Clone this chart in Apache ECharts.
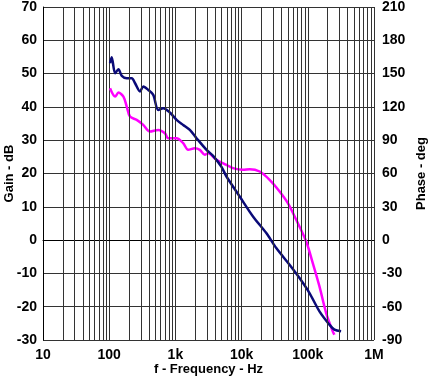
<!DOCTYPE html>
<html><head><meta charset="utf-8">
<script src="https://cdn.jsdelivr.net/npm/echarts@6/dist/echarts.min.js"></script>
<style>html,body{margin:0;padding:0;background:#fff}#c{width:428px;height:379px}</style>
</head><body><div id="c"></div>
<script>
// Gain (left axis, dB)
var gainFreq = [103,109,123,138,155,184,219,246,292,327,389,463,551,655,826,1042,1311,1653,2085,2951,3709,4966,5904,9356,14860,23610,33420,53020,74990,106100,150000,212300,252500,318400];
var gainDb   = [53.1,54.9,50.1,51.3,49.3,48.6,48.6,47.1,44.6,46.1,45.1,43.6,39.1,39.6,38.3,36.1,34.6,33.1,30.6,27.1,25.3,22.0,19.1,13.1,7.1,2.1,-2.4,-7.4,-11.4,-15.9,-21.4,-25.4,-26.9,-27.4];
// Phase (right axis, deg)
var phaseFreq = [103,123,138,164,184,206,260,327,413,551,695,779,1042,1311,1559,1966,2339,2782,3119,4174,5904,7420,10500,13240,18740,26490,37500,49990,66860,94610,118900,150000,189300,237900,252500];
var phaseDeg  = [136.8,129.3,132.9,129.3,120.3,111.3,108.3,103.8,97.8,99.3,96.3,91.8,91.8,87.3,81.3,82.8,81.3,76.8,78.3,72.3,67.8,64.8,63.3,63.9,61.8,54.3,43.8,33.3,18.3,-1.2,-20.7,-41.7,-65.7,-82.2,-85.2];
var xTickLabels = {1:'10',2:'100',3:'1k',4:'10k',5:'100k',6:'1M'};
var decades = [10,100,1000,10000,100000];
var minorMult = [2,3,4,5,6,7,8,9];

var minorLines = [];
decades.forEach(function(d){ minorMult.forEach(function(m){ minorLines.push({xAxis: d*m}); }); });

function zip(a,b){ return a.map(function(v,i){ return [v,b[i]]; }); }

var font = 'Liberation Sans, Arial, sans-serif';
var lblStyle = {color:'#000', fontWeight:'bold', fontSize:14, fontFamily:font};
var gridCol = '#333';

var chart = echarts.init(document.getElementById('c'));
chart.setOption({
  animation:false,
  grid:{left:43, right:54, top:7, bottom:39, containLabel:false, outerBoundsMode:'none'},
  xAxis:{
    type:'log', logBase:10, min:10, max:1000000, splitNumber:5,
    name:'f - Frequency - Hz', nameLocation:'middle', nameGap:23, nameMoveOverlap:false,
    nameTextStyle:{color:'#000', fontWeight:'bold', fontSize:13, fontFamily:font},
    axisLine:{show:true, lineStyle:{color:'#000', width:1}},
    axisTick:{show:false},
    axisLabel:Object.assign({margin:8, formatter:function(v){ return xTickLabels[Math.round(Math.log10(v))] || ''; }}, lblStyle),
    splitLine:{show:true, lineStyle:{color:gridCol, width:1}}
  },
  yAxis:[{
    type:'value', min:-30, max:70, interval:10,
    name:'Gain - dB', nameLocation:'middle', nameGap:27, nameRotate:90, nameMoveOverlap:false,
    nameTextStyle:{color:'#000', fontWeight:'bold', fontSize:13, fontFamily:font},
    axisLine:{show:true, lineStyle:{color:'#000', width:1}},
    axisTick:{show:false},
    axisLabel:Object.assign({margin:6}, lblStyle),
    splitLine:{show:true, lineStyle:{color:gridCol, width:1}}
  },{
    type:'value', min:-90, max:210, interval:30, position:'right',
    name:'Phase - deg', nameLocation:'middle', nameGap:41, nameRotate:90, nameMoveOverlap:false,
    nameTextStyle:{color:'#000', fontWeight:'bold', fontSize:13, fontFamily:font},
    axisLine:{show:false},
    axisTick:{show:false},
    axisLabel:Object.assign({margin:8}, lblStyle),
    splitLine:{show:false}
  }],
  series:[{
    type:'line', data:[], silent:true,
    markLine:{silent:true, symbol:'none', label:{show:false},
      lineStyle:{color:gridCol, width:1, type:'solid'}, data:minorLines, animation:false}
  },{
    type:'line', name:'Phase', yAxisIndex:1, data:zip(phaseFreq, phaseDeg),
    showSymbol:false, smooth:0.3, lineStyle:{color:'#ff00ff', width:2.5}, z:3
  },{
    type:'line', name:'Gain', yAxisIndex:0, data:zip(gainFreq, gainDb),
    showSymbol:false, smooth:0.3, lineStyle:{color:'#0a0a78', width:2.5}, z:4
  }]
});
</script></body></html>
